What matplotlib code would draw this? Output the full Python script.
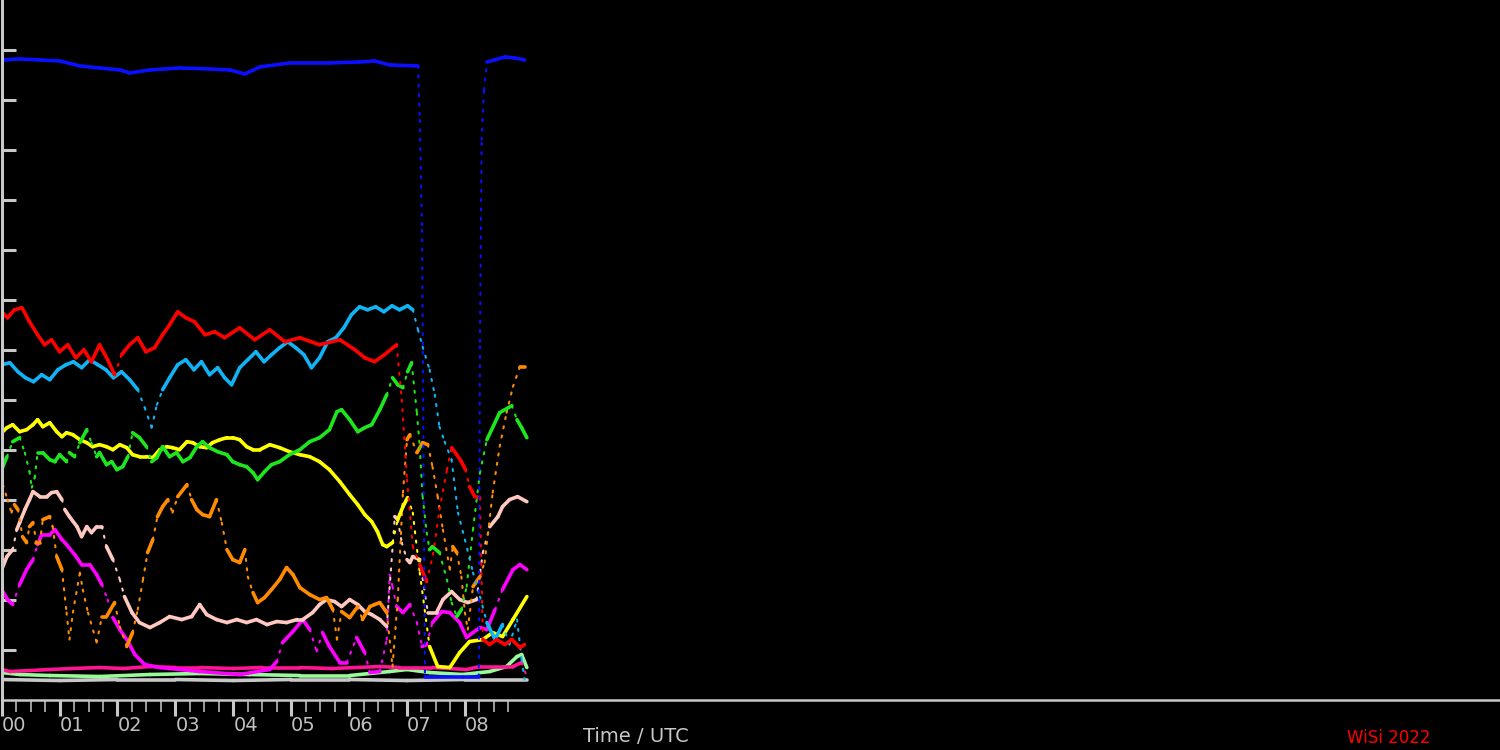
import numpy as np
import matplotlib
matplotlib.use("Agg")
import matplotlib.pyplot as plt
from matplotlib.collections import LineCollection

# time in hours UTC, level in chart units (one y tick per unit)
blue_t = [0.00, 0.31, 0.66, 1.00, 1.35, 1.69, 2.04, 2.21, 2.56, 3.07, 3.59, 3.94, 4.20, 4.46, 4.97,
          5.66, 6.18, 6.44, 6.70, 7.19, 7.22, 7.26, 7.31, 7.96, 8.24, 8.26, 8.29, 8.33, 8.38, 8.51,
          8.69, 8.86, 9.03]
blue_v = [12.80, 12.82, 12.80, 12.78, 12.68, 12.64, 12.60, 12.54, 12.60, 12.64, 12.62, 12.60, 12.52,
          12.66, 12.74, 12.74, 12.76, 12.78, 12.70, 12.68, 11.60, 9.40, 0.46, 0.46, 0.46, 7.16, 11.20,
          12.20, 12.76, 12.80, 12.86, 12.84, 12.80]

red_t = [0.00, 0.10, 0.22, 0.35, 0.48, 0.62, 0.74, 0.86, 1.00, 1.14, 1.28, 1.42, 1.55, 1.69, 1.83,
         1.95, 2.07, 2.21, 2.35, 2.49, 2.64, 2.78, 2.90, 3.04, 3.18, 3.33, 3.51, 3.68, 3.85, 4.11,
         4.37, 4.63, 4.89, 5.15, 5.49, 5.84, 6.10, 6.27, 6.44, 6.61, 6.82, 6.91, 7.00, 7.10, 7.22,
         7.34, 7.45, 7.56, 7.69, 7.77, 7.86, 7.94, 8.01, 8.08, 8.17, 8.26, 8.31, 8.43, 8.55, 8.69,
         8.81, 8.95, 9.03]
red_v = [7.76, 7.64, 7.80, 7.84, 7.56, 7.30, 7.10, 7.20, 6.96, 7.10, 6.84, 7.00, 6.76, 7.10, 6.80,
         6.50, 6.90, 7.10, 7.24, 6.96, 7.04, 7.30, 7.50, 7.76, 7.64, 7.56, 7.30, 7.36, 7.24, 7.44,
         7.20, 7.40, 7.16, 7.24, 7.10, 7.20, 7.00, 6.84, 6.76, 6.90, 7.10, 6.00, 4.40, 3.06, 2.70,
         2.36, 2.90, 3.80, 4.60, 5.04, 4.90, 4.76, 4.60, 4.26, 4.06, 4.04, 1.20, 1.10, 1.20, 1.10,
         1.20, 1.04, 1.10]

sky_t = [0.00, 0.14, 0.28, 0.41, 0.55, 0.69, 0.83, 0.97, 1.11, 1.24, 1.38, 1.52, 1.66, 1.80, 1.93,
         2.07, 2.21, 2.35, 2.47, 2.59, 2.68, 2.78, 2.90, 3.04, 3.18, 3.32, 3.45, 3.59, 3.73, 3.85,
         3.97, 4.11, 4.25, 4.39, 4.53, 4.66, 4.80, 4.94, 5.08, 5.22, 5.35, 5.49, 5.63, 5.77, 5.91,
         6.04, 6.18, 6.32, 6.46, 6.60, 6.74, 6.87, 7.01, 7.10, 7.19, 7.27, 7.39, 7.48, 7.56, 7.65,
         7.77, 7.88, 8.00, 8.14, 8.26, 8.38, 8.52, 8.65, 8.77, 8.90, 8.98, 9.03]
sky_v = [6.70, 6.74, 6.56, 6.44, 6.36, 6.50, 6.40, 6.60, 6.70, 6.76, 6.64, 6.80, 6.70, 6.60, 6.44,
         6.56, 6.40, 6.20, 5.84, 5.44, 5.90, 6.20, 6.44, 6.70, 6.80, 6.60, 6.76, 6.50, 6.64, 6.44,
         6.30, 6.64, 6.80, 6.96, 6.76, 6.90, 7.04, 7.16, 7.04, 6.90, 6.64, 6.84, 7.16, 7.24, 7.44,
         7.70, 7.86, 7.80, 7.86, 7.76, 7.88, 7.80, 7.88, 7.80, 7.40, 7.06, 6.60, 6.10, 5.46, 5.16,
         4.80, 3.74, 3.20, 2.54, 2.06, 1.54, 1.20, 1.50, 1.10, 1.60, 0.80, 0.40]

green_t = [0.00, 0.09, 0.19, 0.31, 0.40, 0.48, 0.52, 0.57, 0.62, 0.71, 0.83, 0.92, 1.00, 1.12, 1.17,
           1.26, 1.35, 1.47, 1.55, 1.64, 1.69, 1.81, 1.90, 1.99, 2.09, 2.18, 2.26, 2.38, 2.50, 2.59,
           2.68, 2.78, 2.90, 3.02, 3.13, 3.25, 3.37, 3.47, 3.59, 3.73, 3.89, 3.99, 4.11, 4.23, 4.34,
           4.42, 4.54, 4.66, 4.80, 4.97, 5.15, 5.32, 5.49, 5.66, 5.79, 5.87, 6.01, 6.15, 6.27, 6.39,
           6.53, 6.65, 6.75, 6.84, 6.93, 7.01, 7.08, 7.17, 7.22, 7.27, 7.34, 7.39, 7.44, 7.56, 7.69,
           7.77, 7.86, 7.94, 8.03, 8.14, 8.26, 8.38, 8.60, 8.81, 8.90, 8.98, 9.07]
green_v = [4.60, 4.86, 5.16, 5.24, 4.94, 4.56, 4.24, 4.44, 4.94, 4.94, 4.80, 4.76, 4.90, 4.76, 4.94,
           4.86, 5.14, 5.40, 5.14, 4.86, 4.94, 4.70, 4.76, 4.60, 4.66, 4.86, 5.34, 5.24, 5.06, 4.76,
           4.84, 5.06, 4.86, 4.94, 4.76, 4.84, 5.06, 5.16, 5.04, 4.96, 4.90, 4.76, 4.70, 4.66, 4.54,
           4.40, 4.56, 4.70, 4.76, 4.90, 5.00, 5.16, 5.24, 5.40, 5.76, 5.80, 5.60, 5.36, 5.44, 5.50,
           5.80, 6.10, 6.44, 6.30, 6.24, 6.56, 6.74, 5.74, 5.06, 4.06, 3.34, 3.00, 3.06, 2.94, 2.40,
           1.94, 1.66, 1.80, 2.26, 3.40, 4.54, 5.20, 5.74, 5.88, 5.60, 5.44, 5.24]

yellow_t = [0.00, 0.09, 0.19, 0.31, 0.43, 0.54, 0.62, 0.71, 0.83, 0.95, 1.04, 1.12, 1.23, 1.35, 1.47,
            1.57, 1.69, 1.81, 1.92, 2.04, 2.16, 2.26, 2.38, 2.50, 2.61, 2.73, 2.85, 2.95, 3.07, 3.20,
            3.30, 3.42, 3.54, 3.64, 3.77, 3.89, 3.99, 4.11, 4.23, 4.34, 4.46, 4.63, 4.80, 4.97, 5.15,
            5.32, 5.49, 5.66, 5.84, 6.01, 6.15, 6.27, 6.39, 6.49, 6.58, 6.65, 6.75, 6.84, 6.93, 7.01,
            7.10, 7.22, 7.39, 7.53, 7.74, 7.91, 8.08, 8.31, 8.48, 8.65, 8.83, 9.07]
yellow_v = [5.34, 5.44, 5.50, 5.36, 5.40, 5.50, 5.60, 5.46, 5.54, 5.36, 5.26, 5.34, 5.30, 5.20, 5.14,
            5.06, 5.10, 5.06, 5.00, 5.10, 5.04, 4.90, 4.86, 4.86, 4.84, 5.00, 5.06, 5.04, 5.00, 5.16,
            5.14, 5.06, 5.04, 5.14, 5.20, 5.24, 5.24, 5.20, 5.06, 5.00, 5.00, 5.10, 5.04, 4.96, 4.90,
            4.86, 4.76, 4.60, 4.36, 4.10, 3.90, 3.70, 3.56, 3.36, 3.10, 3.06, 3.14, 3.60, 3.86, 4.04,
            3.74, 2.54, 1.06, 0.66, 0.64, 0.94, 1.16, 1.20, 1.34, 1.26, 1.60, 2.06]

orange_t = [0.02, 0.10, 0.17, 0.22, 0.28, 0.36, 0.43, 0.48, 0.54, 0.60, 0.66, 0.71, 0.83, 0.88, 0.95,
            1.04, 1.12, 1.17, 1.23, 1.35, 1.40, 1.49, 1.64, 1.73, 1.81, 1.95, 2.04, 2.16, 2.26, 2.35,
            2.44, 2.52, 2.61, 2.69, 2.78, 2.87, 2.95, 3.04, 3.20, 3.28, 3.37, 3.47, 3.59, 3.71, 3.80,
            3.89, 3.99, 4.11, 4.20, 4.25, 4.34, 4.42, 4.54, 4.66, 4.80, 4.92, 5.03, 5.15, 5.32, 5.49,
            5.61, 5.72, 5.79, 5.87, 6.01, 6.15, 6.23, 6.36, 6.44, 6.53, 6.65, 6.75, 6.84, 6.93, 7.00,
            7.05, 7.17, 7.27, 7.36, 7.44, 7.53, 7.62, 7.74, 7.79, 7.86, 7.94, 8.00, 8.05, 8.14, 8.26,
            8.34, 8.48, 8.60, 8.72, 8.83, 8.95, 9.03]
orange_v = [4.30, 4.00, 3.74, 3.90, 3.80, 3.26, 3.14, 3.46, 3.54, 3.14, 3.14, 3.60, 3.66, 3.46, 2.86,
            2.60, 1.74, 1.20, 1.74, 2.54, 2.20, 1.74, 1.14, 1.66, 1.66, 1.94, 1.46, 1.06, 1.34, 1.80,
            2.40, 2.94, 3.20, 3.66, 3.86, 4.00, 3.74, 4.06, 4.30, 4.00, 3.80, 3.70, 3.66, 4.00, 3.54,
            3.00, 2.80, 2.74, 3.00, 2.46, 2.14, 1.94, 2.04, 2.20, 2.40, 2.64, 2.50, 2.24, 2.10, 2.00,
            2.04, 1.80, 1.20, 1.76, 1.64, 1.86, 1.60, 1.86, 1.90, 1.94, 1.74, 0.66, 2.00, 4.14, 5.20,
            5.30, 4.94, 5.14, 5.10, 4.66, 4.06, 3.40, 2.60, 3.06, 2.94, 2.46, 1.74, 1.40, 2.26, 2.46,
            2.74, 4.14, 5.06, 5.74, 6.26, 6.66, 6.66]

pink_t = [0.00, 0.09, 0.19, 0.26, 0.31, 0.40, 0.48, 0.54, 0.66, 0.78, 0.86, 0.95, 1.04, 1.09, 1.17,
          1.30, 1.38, 1.47, 1.55, 1.64, 1.73, 1.81, 1.92, 2.04, 2.12, 2.25, 2.38, 2.56, 2.73, 2.90,
          3.11, 3.28, 3.42, 3.54, 3.71, 3.89, 4.06, 4.23, 4.40, 4.58, 4.75, 4.92, 5.10, 5.20, 5.37,
          5.49, 5.61, 5.75, 5.87, 6.01, 6.15, 6.27, 6.39, 6.53, 6.65, 6.79, 6.84, 6.91, 7.00, 7.05,
          7.10, 7.22, 7.36, 7.51, 7.62, 7.77, 7.91, 8.05, 8.20, 8.31, 8.43, 8.57, 8.65, 8.77, 8.91,
          9.07]
pink_v = [2.60, 2.86, 3.00, 3.40, 3.54, 3.80, 4.00, 4.16, 4.06, 4.06, 4.14, 4.16, 4.00, 3.80, 3.66,
          3.46, 3.26, 3.46, 3.34, 3.46, 3.46, 3.06, 2.80, 2.40, 2.06, 1.74, 1.54, 1.44, 1.54, 1.66,
          1.60, 1.66, 1.90, 1.70, 1.60, 1.54, 1.60, 1.54, 1.60, 1.50, 1.56, 1.54, 1.60, 1.60, 1.74,
          1.90, 2.00, 1.96, 1.86, 2.00, 1.90, 1.76, 1.70, 1.60, 1.46, 3.66, 3.60, 3.14, 2.80, 2.74,
          2.86, 2.80, 1.74, 1.74, 2.00, 2.16, 2.00, 1.94, 2.00, 2.94, 3.46, 3.66, 3.86, 4.00, 4.06,
          3.96]

magenta_t = [0.00, 0.10, 0.19, 0.31, 0.43, 0.54, 0.62, 0.69, 0.83, 0.92, 1.04, 1.12, 1.26, 1.38, 1.52,
             1.64, 1.73, 1.83, 1.92, 2.04, 2.16, 2.30, 2.47, 2.73, 3.42, 4.11, 4.63, 4.75, 4.85, 5.03,
             5.20, 5.32, 5.44, 5.54, 5.66, 5.84, 5.96, 6.13, 6.27, 6.36, 6.53, 6.65, 6.70, 6.75, 6.82,
             6.93, 7.05, 7.17, 7.26, 7.34, 7.44, 7.60, 7.74, 7.91, 8.03, 8.14, 8.26, 8.38, 8.52, 8.65,
             8.83, 8.95, 9.07]
magenta_v = [2.20, 2.00, 1.90, 2.30, 2.60, 2.80, 3.10, 3.30, 3.30, 3.40, 3.20, 3.10, 2.90, 2.70, 2.70,
             2.50, 2.30, 2.00, 1.64, 1.40, 1.20, 0.90, 0.70, 0.64, 0.56, 0.50, 0.60, 0.76, 1.14, 1.36,
             1.60, 1.40, 0.96, 1.34, 1.06, 0.74, 0.74, 1.24, 0.94, 0.54, 0.56, 1.20, 2.50, 2.26, 1.86,
             1.74, 1.90, 1.54, 1.06, 1.10, 1.54, 1.76, 1.74, 1.54, 1.24, 1.34, 1.44, 1.40, 1.80, 2.20,
             2.60, 2.70, 2.60]

deeppink_t = [0.00, 0.14, 0.50, 0.83, 1.20, 1.69, 2.10, 2.56, 3.00, 3.42, 4.00, 4.50, 5.15, 5.70,
              6.53, 6.87, 7.44, 8.03, 8.26, 8.83, 8.98, 9.07]
deeppink_v = [0.60, 0.56, 0.58, 0.60, 0.62, 0.64, 0.62, 0.66, 0.64, 0.64, 0.62, 0.64, 0.64, 0.62,
              0.66, 0.64, 0.64, 0.60, 0.66, 0.66, 0.74, 0.46]

palegreen_t = [0.00, 0.31, 0.83, 1.69, 2.56, 3.42, 4.28, 5.15, 6.01, 6.70, 7.00, 7.39, 7.96, 8.43,
               8.72, 8.90, 8.98, 9.07]
palegreen_v = [0.54, 0.50, 0.48, 0.46, 0.50, 0.52, 0.50, 0.48, 0.48, 0.56, 0.60, 0.54, 0.50, 0.56,
               0.66, 0.86, 0.90, 0.64]

grey_t = [0.00, 1.00, 2.00, 3.00, 4.00, 5.00, 6.00, 7.00, 8.00, 9.07]
grey_v = [0.40, 0.38, 0.40, 0.40, 0.38, 0.40, 0.40, 0.38, 0.40, 0.40]

hour_labels = ["00", "01", "02", "03", "04", "05", "06", "07", "08"]

series = [
    (grey_t, grey_v, "#c8c8c8"),
    (palegreen_t, palegreen_v, "#98fb98"),
    (deeppink_t, deeppink_v, "#ff1493"),
    (magenta_t, magenta_v, "#ff00ff"),
    (pink_t, pink_v, "#ffc8c0"),
    (orange_t, orange_v, "#ff8c00"),
    (yellow_t, yellow_v, "#ffff00"),
    (green_t, green_v, "#1ee61e"),
    (sky_t, sky_v, "#10b4f5"),
    (red_t, red_v, "#ff0000"),
    (blue_t, blue_v, "#0a10ff"),
]

AXIS_COL = "#c8c8c8"

fig = plt.figure(figsize=(15, 7.5), dpi=100, facecolor="black")
ax = fig.add_axes([1.7 / 1500, 50.5 / 750, 1 - 1.7 / 1500, 699.5 / 750])
ax.set_facecolor("black")
ax.set_xlim(0, (1500 - 1.7) / 57.9)
ax.set_ylim(0, 14)


def draw_series(t, v, color):
    # fast moving parts of a curve show up as sparse dots in the original
    pts = np.column_stack([t, v])
    px = ax.transData.transform(pts)
    dx = np.abs(np.diff(px[:, 0]))
    dy = np.abs(np.diff(px[:, 1]))
    steep = dy > 2.5 * np.maximum(dx, 0.5)
    segs = np.stack([pts[:-1], pts[1:]], axis=1)
    widths = np.where(steep, 1.5, 2.6)
    styles = [(0, (1, 3.5)) if s else "solid" for s in steep]
    lc = LineCollection(segs, colors=color, linewidths=widths, linestyles=styles,
                        capstyle="round", joinstyle="round")
    ax.add_collection(lc)


for t, v, col in series:
    draw_series(t, v, col)

# axes frame
for side in ["top", "right"]:
    ax.spines[side].set_visible(False)
ax.spines["left"].set_color(AXIS_COL)
ax.spines["left"].set_linewidth(2.2)
ax.spines["bottom"].set_color(AXIS_COL)
ax.spines["bottom"].set_linewidth(1.8)

ax.set_yticks(np.arange(1, 14))
ax.tick_params(axis="y", direction="in", length=10, width=2.2, color=AXIS_COL, labelleft=False)

ax.set_xticks(np.arange(len(hour_labels)), labels=hour_labels)
ax.set_xticks([m for m in np.arange(0, 9, 0.25) if m % 1 != 0], minor=True)
ax.tick_params(axis="x", which="major", direction="out", length=11.5, width=2.2,
               color=AXIS_COL, labelcolor="#c0c0c0", labelsize=14, pad=0.5)
ax.tick_params(axis="x", which="minor", direction="out", length=8.3, width=1.1, color=AXIS_COL)
for lab in ax.get_xticklabels():
    lab.set_ha("left")

fig.text(636 / 1500, 1 - 737 / 750, "Time / UTC", ha="center", va="center",
         fontsize=14, color=AXIS_COL)
fig.text(1389 / 1500, 1 - 738 / 750, "WiSi 2022", ha="center", va="center",
         fontsize=12, color="#ff0000")

fig.savefig("out.png", dpi=100, facecolor="black")
